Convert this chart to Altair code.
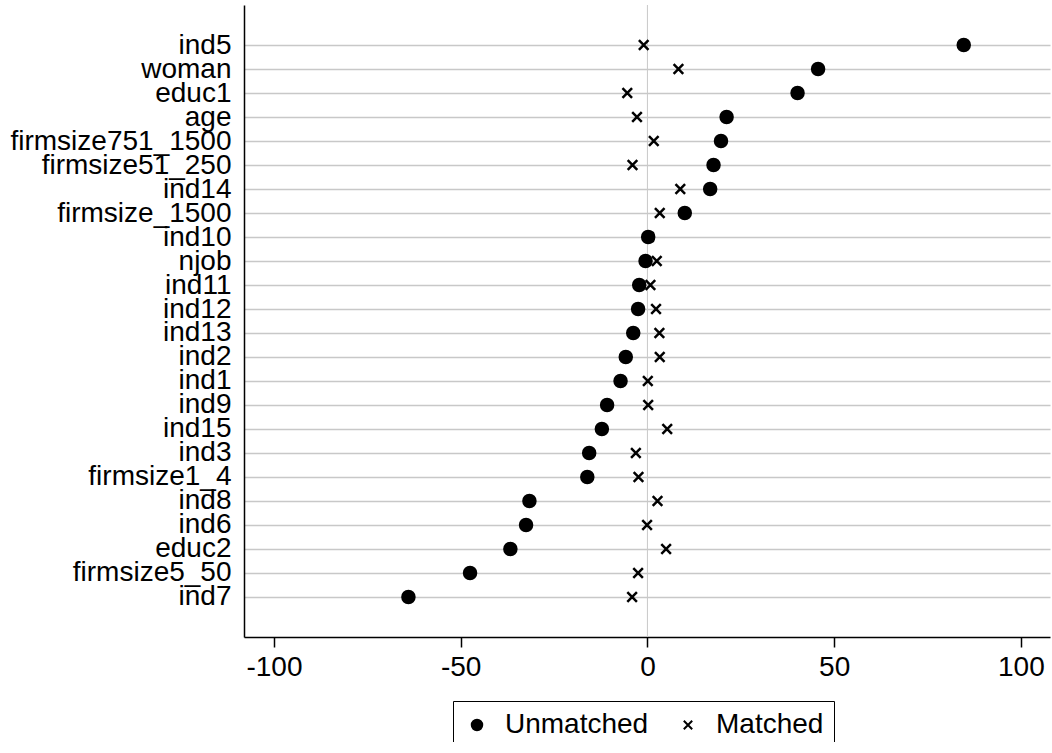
import json

import altair as alt
import pandas as pd

# Covariates, top to bottom
variables = [
    "ind5", "woman", "educ1", "age", "firmsize751_1500", "firmsize51_250",
    "ind14", "firmsize_1500", "ind10", "njob", "ind11", "ind12", "ind13",
    "ind2", "ind1", "ind9", "ind15", "ind3", "firmsize1_4", "ind8", "ind6",
    "educ2", "firmsize5_50", "ind7",
]

# Standardised % bias before matching
bias_unmatched = [
    84.7, 45.7, 40.2, 21.2, 19.7, 17.7, 16.8, 10.0, 0.2, -0.5, -2.2, -2.5,
    -3.8, -5.8, -7.2, -10.8, -12.2, -15.6, -16.1, -31.6, -32.5, -36.7,
    -47.5, -64.0,
]

# Standardised % bias after matching
bias_matched = [
    -1.0, 8.3, -5.4, -2.8, 1.7, -4.0, 8.8, 3.3, 0.4, 2.5, 0.8, 2.3, 3.2,
    3.3, 0.1, 0.2, 5.3, -3.1, -2.4, 2.7, -0.1, 5.0, -2.5, -4.1,
]

samples = ["Unmatched", "Matched"]
x_ticks = [-100, -50, 0, 50, 100]

n = len(variables)
rows = list(range(n))

df = pd.DataFrame({
    "row": rows * 2,
    "variable": variables * 2,
    "bias": bias_unmatched + bias_matched,
    "sample": [samples[0]] * n + [samples[1]] * n,
})

FONT = "Liberation Sans"
X_PATH = "M-0.8,-0.8L0.8,0.8M-0.8,0.8L0.8,-0.8"
GRID = "#c8c8c8"

x_scale = alt.Scale(domain=[-108.03, 107.8], nice=False, zero=False)
# one row per covariate, first covariate at the top, with a margin of
# about one and two-thirds rows above and below
y_scale = alt.Scale(domain=[-1.6667, n - 1 + 1.6667], nice=False,
                    zero=False, reverse=True)

label_lookup = json.dumps(variables)

legend = alt.Legend(
    title=None,
    orient="none",
    legendX=209,
    legendY=696,
    direction="horizontal",
)

zero_line = alt.Chart(pd.DataFrame({"x": [0]})).mark_rule(
    color=GRID, strokeWidth=1
).encode(
    x=alt.X("x:Q", scale=x_scale, title=None)
)

points = alt.Chart(df).mark_point(
    strokeWidth=2.5, opacity=1, size=144
).encode(
    x=alt.X(
        "bias:Q",
        scale=x_scale,
        title=None,
        axis=alt.Axis(
            values=x_ticks, grid=False, tickSize=10, tickWidth=1.5,
            tickColor="black", labelPadding=6,
            labelExpr="'' + datum.value",
        ),
    ),
    y=alt.Y(
        "row:Q",
        scale=y_scale,
        title=None,
        axis=alt.Axis(
            values=rows, ticks=False, grid=True, gridColor=GRID,
            gridWidth=1.5, labelPadding=13, labelLimit=400,
            labelOverlap=False, labelFlush=False,
            labelExpr=label_lookup + "[datum.value]",
        ),
    ),
    shape=alt.Shape(
        "sample:N",
        scale=alt.Scale(domain=samples, range=["circle", X_PATH]),
        legend=legend,
    ),
    fill=alt.Fill(
        "sample:N",
        scale=alt.Scale(domain=samples, range=["black", "transparent"]),
        legend=legend,
    ),
    stroke=alt.Stroke(
        "sample:N",
        scale=alt.Scale(domain=samples, range=["black", "black"]),
        legend=legend,
    ),
    tooltip=["variable:N", "sample:N", "bias:Q"],
)

chart = alt.layer(zero_line, points).properties(
    width=806,
    height=632,
    padding={"left": 244, "top": 5, "right": 2, "bottom": 105},
    autosize=alt.AutoSizeParams(type="none"),
).configure_view(
    stroke=None
).configure_axis(
    labelFont=FONT,
    labelFontSize=28,
    labelColor="black",
    domainColor="black",
    domainWidth=1.5,
).configure_legend(
    labelFont=FONT,
    labelFontSize=28,
    labelColor="black",
    strokeColor="black",
    padding=10,
    symbolSize=110,
    symbolStrokeWidth=2,
    columnPadding=25,
    labelOffset=14,
)

chart.save("out.html", embed_options={"renderer": "svg", "actions": False})
